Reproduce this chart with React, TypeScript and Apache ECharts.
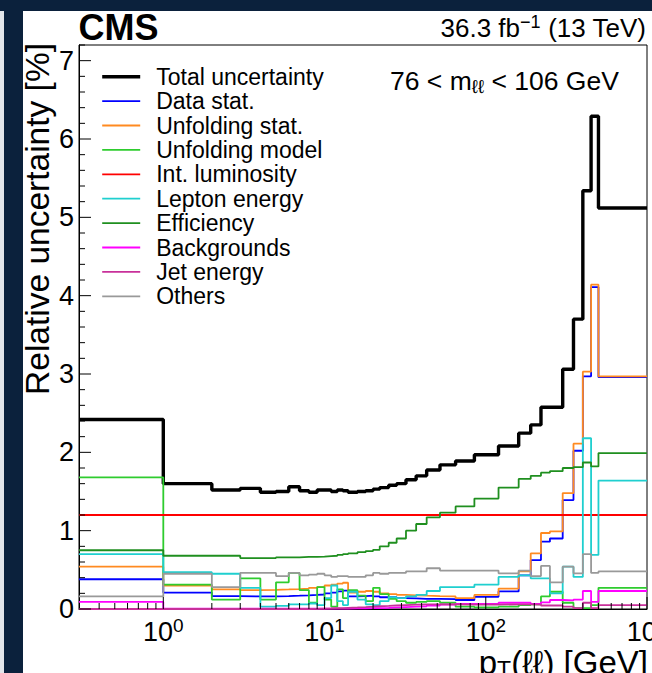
import React, { useEffect, useRef } from "react";
import * as echarts from "echarts";

// pT(ll) bin edges in GeV (first bin starts at 0, drawn from the axis minimum)
const PT_EDGES = [0, 1, 2, 3, 4, 5, 6, 7, 8, 9, 10, 11, 12, 13, 14, 16, 18, 20, 22, 25, 28, 32, 37, 43, 52, 65, 85, 120, 160, 190, 220, 250, 300, 350, 400, 450, 500, 1000];

// Relative uncertainties in percent, one value per bin
const TOTAL = [2.42, 1.6, 1.52, 1.54, 1.49, 1.5, 1.56, 1.51, 1.49, 1.52, 1.52, 1.5, 1.52, 1.51, 1.49, 1.5, 1.51, 1.53, 1.55, 1.58, 1.6, 1.65, 1.7, 1.775, 1.84, 1.89, 1.97, 2.08, 2.245, 2.35, 2.575, 2.575, 3.06, 3.7, 5.34, 6.29, 5.12];
const DATA_STAT = [0.38, 0.21, 0.165, 0.16, 0.16, 0.165, 0.17, 0.175, 0.18, 0.185, 0.2, 0.21, 0.225, 0.235, 0.16, 0.165, 0.17, 0.16, 0.15, 0.15, 0.14, 0.135, 0.13, 0.13, 0.125, 0.115, 0.155, 0.225, 0.43, 0.625, 0.86, 0.9, 1.39, 2.02, 2.97, 4.11, 2.96];
const UNFOLDING_STAT = [0.54, 0.3, 0.25, 0.24, 0.245, 0.25, 0.255, 0.26, 0.27, 0.28, 0.3, 0.31, 0.325, 0.335, 0.21, 0.22, 0.23, 0.22, 0.2, 0.19, 0.18, 0.175, 0.17, 0.165, 0.16, 0.14, 0.18, 0.26, 0.48, 0.71, 0.97, 0.99, 1.48, 2.11, 3.03, 4.14, 2.97];
const UNFOLDING_MODEL = [1.68, 0.31, 0.12, 0.39, 0.12, 0.34, 0.46, 0.24, 0.08, 0.28, 0.12, 0.03, 0.25, 0.14, 0.24, 0.17, 0.1, 0.27, 0.19, 0.13, 0.1, 0.08, 0.09, 0.1, 0.08, 0.03, 0.02, 0.03, 0.05, 0.06, 0.16, 0.22, 0.08, 0.01, 0.01, 0.05, 0.27];
const INT_LUMINOSITY = [1.2, 1.2, 1.2, 1.2, 1.2, 1.2, 1.2, 1.2, 1.2, 1.2, 1.2, 1.2, 1.2, 1.2, 1.2, 1.2, 1.2, 1.2, 1.2, 1.2, 1.2, 1.2, 1.2, 1.2, 1.2, 1.2, 1.2, 1.2, 1.2, 1.2, 1.2, 1.2, 1.2, 1.2, 1.2, 1.2, 1.2];
const LEPTON_ENERGY = [0.7, 0.47, 0.45, 0.27, 0.03, 0.04, 0.06, 0.06, 0.07, 0.05, 0.14, 0.3, 0.1, 0.05, 0.22, 0.12, 0.06, 0.05, 0.1, 0.15, 0.14, 0.16, 0.18, 0.23, 0.28, 0.28, 0.31, 0.41, 0.43, 0.39, 0.39, 0.2, 0.54, 0.41, 2.18, 0.69, 1.64];
const EFFICIENCY = [0.75, 0.68, 0.68, 0.65, 0.65, 0.66, 0.66, 0.665, 0.665, 0.668, 0.675, 0.68, 0.69, 0.7, 0.71, 0.725, 0.74, 0.755, 0.8, 0.846, 0.9, 1.0, 1.085, 1.17, 1.23, 1.31, 1.41, 1.55, 1.66, 1.7, 1.74, 1.76, 1.8, 1.81, 1.87, 1.82, 1.99];
const BACKGROUNDS = [0.09, 0.005, 0.005, 0.005, 0.005, 0.005, 0.005, 0.005, 0.005, 0.005, 0.005, 0.005, 0.005, 0.006, 0.007, 0.008, 0.01, 0.012, 0.015, 0.02, 0.025, 0.03, 0.035, 0.045, 0.055, 0.065, 0.065, 0.08, 0.08, 0.065, 0.085, 0.115, 0.11, 0.12, 0.23, 0.09, 0.23];
const JET_ENERGY = [0.0, 0.0, 0.0, 0.0, 0.0, 0.0, 0.0, 0.0, 0.002, 0.005, 0.007, 0.01, 0.012, 0.015, 0.02, 0.025, 0.03, 0.035, 0.04, 0.045, 0.05, 0.055, 0.06, 0.06, 0.06, 0.055, 0.055, 0.06, 0.06, 0.055, 0.045, 0.045, 0.03, 0.01, 0.08, 0.01, 0.05];
const OTHERS = [0.16, 0.45, 0.28, 0.46, 0.46, 0.42, 0.46, 0.43, 0.44, 0.45, 0.43, 0.41, 0.42, 0.42, 0.41, 0.41, 0.43, 0.46, 0.45, 0.46, 0.46, 0.48, 0.48, 0.52, 0.49, 0.49, 0.49, 0.455, 0.49, 0.42, 0.55, 0.34, 0.54, 0.455, 0.7, 0.46, 0.48];

// Axis ticks
const X_MAJOR_TICKS = [1, 10, 100, 1000];
const X_MINOR_TICKS = [0.4, 0.5, 0.6, 0.7, 0.8, 0.9, 2, 3, 4, 5, 6, 7, 8, 9, 20, 30, 40, 50, 60, 70, 80, 90, 200, 300, 400, 500, 600, 700, 800, 900];
const Y_MAJOR_TICKS = [0, 1, 2, 3, 4, 5, 6, 7];
const Y_MINOR_TICKS = [0.2, 0.4, 0.6, 0.8, 1.2, 1.4, 1.6, 1.8, 2.2, 2.4, 2.6, 2.8, 3.2, 3.4, 3.6, 3.8, 4.2, 4.4, 4.6, 4.8, 5.2, 5.4, 5.6, 5.8, 6.2, 6.4, 6.6, 6.8, 7.2];

const X_MIN = 0.3;
const X_MAX = 1000;
const Y_MIN = 0;
const Y_MAX = 7.2;

const FONT = '"Liberation Sans", Arial, Helvetica, sans-serif';
const NAVY = "#0b213c";

const COMPONENTS = [
  { name: "Total uncertainty", values: TOTAL, color: "#000000", width: 3.4 },
  { name: "Data stat.", values: DATA_STAT, color: "#0000ff", width: 1.8 },
  { name: "Unfolding stat.", values: UNFOLDING_STAT, color: "#ff8a20", width: 1.8 },
  { name: "Unfolding model", values: UNFOLDING_MODEL, color: "#2ecc2e", width: 1.8 },
  { name: "Int. luminosity", values: INT_LUMINOSITY, color: "#ff0000", width: 1.8 },
  { name: "Lepton energy", values: LEPTON_ENERGY, color: "#1fcfcf", width: 1.8 },
  { name: "Efficiency", values: EFFICIENCY, color: "#1f8f1f", width: 1.8 },
  { name: "Backgrounds", values: BACKGROUNDS, color: "#ff00ff", width: 1.8 },
  { name: "Jet energy", values: JET_ENERGY, color: "#c8309a", width: 1.8 },
  { name: "Others", values: OTHERS, color: "#999999", width: 1.8 },
];

// Outline of a histogram: horizontal segment per bin, joined by vertical steps
function histogramOutline(values: number[]): [number, number][] {
  const pts: [number, number][] = [];
  values.forEach((v, i) => {
    pts.push([Math.max(PT_EDGES[i], X_MIN), v], [PT_EDGES[i + 1], v]);
  });
  return pts;
}

function buildOption() {
  const lineSeries = COMPONENTS.map((c) => ({
    type: "line",
    name: c.name,
    data: histogramOutline(c.values),
    symbol: "none",
    showSymbol: false,
    lineStyle: { color: c.color, width: c.width },
    itemStyle: { color: c.color },
    emphasis: { disabled: true },
    silent: true,
    clip: true,
    z: 3,
  }));

  const xTickData = [
    ...X_MAJOR_TICKS.map((v) => [v, Y_MIN, 12]),
    ...X_MINOR_TICKS.map((v) => [v, Y_MIN, 6]),
  ];
  const yTickData = [
    ...Y_MAJOR_TICKS.map((v) => [X_MIN, v, 12]),
    ...Y_MINOR_TICKS.map((v) => [X_MIN, v, 6]),
  ];

  const tickSeries = [
    {
      type: "custom",
      name: "xticks",
      coordinateSystem: "cartesian2d",
      data: xTickData,
      silent: true,
      z: 5,
      renderItem: (_params: any, api: any) => {
        const p = api.coord([api.value(0), api.value(1)]);
        const len = api.value(2);
        return {
          type: "line",
          shape: { x1: p[0], y1: p[1], x2: p[0], y2: p[1] - len },
          style: { stroke: "#000", lineWidth: 1 },
        };
      },
    },
    {
      type: "custom",
      name: "yticks",
      coordinateSystem: "cartesian2d",
      data: yTickData,
      silent: true,
      z: 5,
      renderItem: (_params: any, api: any) => {
        const p = api.coord([api.value(0), api.value(1)]);
        const len = api.value(2);
        return {
          type: "line",
          shape: { x1: p[0], y1: p[1], x2: p[0] + len, y2: p[1] },
          style: { stroke: "#000", lineWidth: 1 },
        };
      },
    },
  ];

  return {
    animation: false,
    backgroundColor: "#ffffff",
    textStyle: { fontFamily: FONT },
    grid: {
      left: 79,
      top: 45,
      width: 568,
      height: 564,
      show: true,
      borderColor: "#000",
      borderWidth: 1,
      backgroundColor: "transparent",
      containLabel: false,
      outerBoundsMode: "none",
    },
    xAxis: {
      type: "log",
      logBase: 10,
      min: X_MIN,
      max: X_MAX,
      axisLine: { show: true, onZero: false, lineStyle: { color: "#000", width: 1 } },
      axisTick: { show: false },
      minorTick: { show: false },
      splitLine: { show: false },
      axisLabel: {
        show: true,
        margin: 7,
        showMinLabel: true,
        showMaxLabel: true,
        hideOverlap: false,
        formatter: (v: number) => {
          const e = Math.log10(v);
          if (Math.abs(e - Math.round(e)) > 1e-6) return "";
          return `{b|10}{s|${Math.round(e)}}`;
        },
        rich: {
          b: { fontSize: 27, fontFamily: FONT, color: "#000", lineHeight: 32 },
          s: { fontSize: 19, fontFamily: FONT, color: "#000", lineHeight: 16, verticalAlign: "top" },
        },
      },
    },
    yAxis: {
      type: "value",
      min: Y_MIN,
      max: Y_MAX,
      interval: 1,
      axisLine: { show: true, onZero: false, lineStyle: { color: "#000", width: 1 } },
      axisTick: { show: false },
      splitLine: { show: false },
      axisLabel: {
        margin: 5,
        fontSize: 27,
        fontFamily: FONT,
        color: "#000",
        formatter: (v: number) => (Number.isInteger(v) ? String(v) : ""),
      },
    },
    legend: {
      data: COMPONENTS.map((c) => c.name),
      orient: "vertical",
      left: 100.5,
      top: 64.7,
      padding: 0,
      itemWidth: 38,
      itemHeight: 14,
      itemGap: 0.4,
      selectedMode: false,
      lineStyle: { width: "inherit" },
      itemStyle: { opacity: 0 },
      textStyle: {
        fontSize: 23,
        lineHeight: 24,
        fontFamily: FONT,
        color: "#000",
        padding: [0, 0, 0, 11],
      },
    },
    graphic: [
      { type: "rect", silent: true, z: 100, shape: { x: 0, y: 0, width: 4, height: 673 }, style: { fill: "#e3e6ea" } },
      { type: "rect", silent: true, z: 100, shape: { x: 4, y: 0, width: 19, height: 673 }, style: { fill: NAVY } },
      { type: "rect", silent: true, z: 101, shape: { x: 0, y: 0, width: 652, height: 11 }, style: { fill: NAVY } },
      {
        type: "text",
        silent: true,
        z: 50,
        x: 78.5,
        y: 27.5,
        style: { text: "CMS", font: `bold 36px ${FONT}`, fill: "#000", textAlign: "left", textVerticalAlign: "middle" },
      },
      {
        type: "text",
        silent: true,
        z: 50,
        x: 646,
        y: 28,
        style: {
          text: "{n|36.3 fb}{s|\u22121}{n| (13 TeV)}",
          rich: {
            n: { fontSize: 26, fontFamily: FONT, fill: "#000", lineHeight: 30 },
            s: { fontSize: 18, fontFamily: FONT, fill: "#000", lineHeight: 12, verticalAlign: "top" },
          },
          textAlign: "right",
          textVerticalAlign: "middle",
        },
      },
      {
        type: "text",
        silent: true,
        z: 50,
        x: 390,
        y: 81,
        style: {
          text: "{n|76 < m}{s|\u2113\u2113}{n| < 106 GeV}",
          rich: {
            n: { fontSize: 26.5, fontFamily: FONT, fill: "#000", lineHeight: 30 },
            s: { fontSize: 19, fontFamily: FONT, fill: "#000", lineHeight: 18, verticalAlign: "bottom" },
          },
          textAlign: "left",
          textVerticalAlign: "middle",
        },
      },
      {
        type: "text",
        silent: true,
        z: 50,
        x: 37,
        y: 43,
        rotation: Math.PI / 2,
        style: {
          text: "Relative uncertainty [%]",
          font: `33.5px ${FONT}`,
          fill: "#000",
          textAlign: "right",
          textVerticalAlign: "middle",
        },
      },
      {
        type: "text",
        silent: true,
        z: 50,
        x: 648,
        y: 662,
        style: {
          text: "{n|p}{s|T}{n|(\u2113\u2113) [GeV]}",
          rich: {
            n: { fontSize: 33, fontFamily: FONT, fill: "#000", lineHeight: 38 },
            s: { fontSize: 23, fontFamily: FONT, fill: "#000", lineHeight: 22, verticalAlign: "bottom" },
          },
          textAlign: "right",
          textVerticalAlign: "middle",
        },
      },
    ],
    series: [...lineSeries, ...tickSeries],
  };
}

export default function App() {
  const ref = useRef<HTMLDivElement>(null);

  useEffect(() => {
    document.body.style.margin = "0";
    const el = ref.current;
    if (!el) return;
    const chart = echarts.init(el, null, { renderer: "svg" });
    chart.setOption(buildOption() as any);
    return () => {
      chart.dispose();
    };
  }, []);

  return (
    <div
      ref={ref}
      style={{ position: "absolute", left: 0, top: 0, width: 652, height: 673, background: "#ffffff" }}
    />
  );
}
